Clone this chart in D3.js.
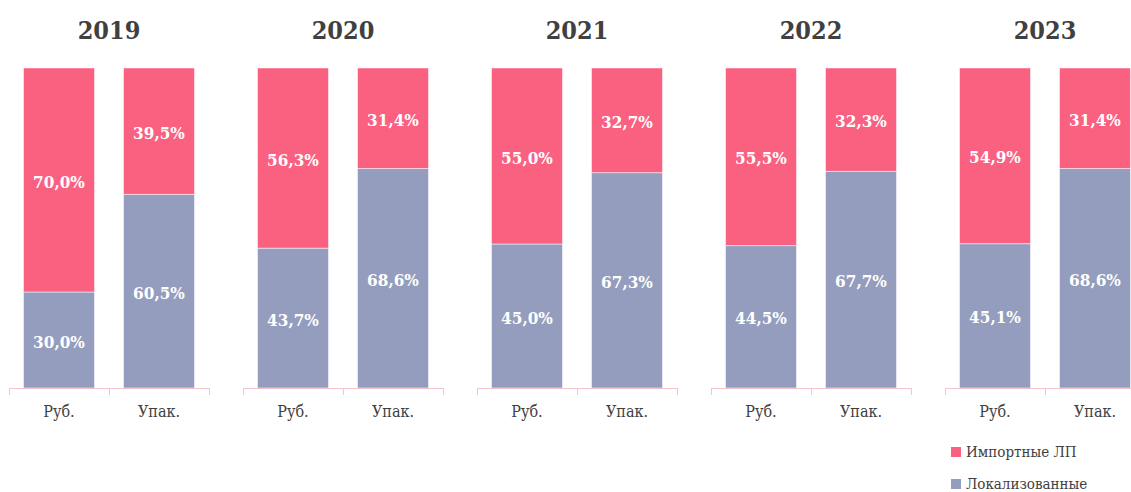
<!DOCTYPE html>
<html lang="ru">

<head>
  <meta charset="UTF-8">
  <title>Импортные и локализованные ЛП</title>
  <script src="https://d3js.org/d3.v7.min.js"></script>
  <style>
    body {
      margin: 0;
      background: #fff;
      font-family: "DejaVu Serif Condensed", "DejaVu Serif", serif;
    }
  </style>
</head>

<body>
  <div id="chart"></div>

  <script>
    const years = ["2019", "2020", "2021", "2022", "2023"];
    const categories = ["Руб.", "Упак."];
    const seriesNames = ["Импортные ЛП", "Локализованные"];
    const localRub = [30.0, 43.7, 45.0, 44.5, 45.1];
    const localPack = [60.5, 68.6, 67.3, 67.7, 68.6];
    const importRub = [70.0, 56.3, 55.0, 55.5, 54.9];
    const importPack = [39.5, 31.4, 32.7, 32.3, 31.4];

    const width = 1131, height = 492;
    const colors = { imp: "#fa6181", loc: "#949dbd" };
    const textColor = "#404040";
    const axisColor = "#f2c4cf";

    const svg = d3.select("#chart")
      .append("svg")
      .attr("width", width)
      .attr("height", height);

    // one panel per year
    const px = d3.scaleBand()
      .domain(years)
      .range([9, 1145])
      .paddingInner(34 / 234);

    const bx = d3.scaleBand()
      .domain(categories)
      .range([0, px.bandwidth()])
      .paddingInner(0.29)
      .paddingOuter(0.145);

    const y = d3.scaleLinear()
      .domain([0, 100])
      .range([388, 68]);

    const fmt = v => d3.format(".1f")(v).replace(".", ",") + "%";

    years.forEach((yr, i) => {
      const g = svg.append("g")
        .attr("transform", `translate(${px(yr)},0)`);

      const rows = [
        { cat: categories[0], loc: localRub[i], imp: importRub[i] },
        { cat: categories[1], loc: localPack[i], imp: importPack[i] }
      ];

      // title
      g.append("text")
        .attr("x", px.bandwidth() / 2)
        .attr("y", 39)
        .attr("text-anchor", "middle")
        .attr("font-size", "25px")
        .attr("font-weight", "bold")
        .attr("fill", textColor)
        .text(yr);

      rows.forEach(d => {
        const x0 = bx(d.cat);
        const segs = [
          { key: "loc", y0: 0, y1: d.loc, v: d.loc },
          { key: "imp", y0: d.loc, y1: d.loc + d.imp, v: d.imp }
        ];

        g.selectAll(null)
          .data(segs)
          .enter()
          .append("rect")
          .attr("x", x0)
          .attr("width", bx.bandwidth())
          .attr("y", s => y(s.y1))
          .attr("height", s => y(s.y0) - y(s.y1))
          .attr("fill", s => colors[s.key])
          .attr("stroke", "#fff")
          .attr("stroke-opacity", 0.5)
          .attr("stroke-width", 1);

        g.selectAll(null)
          .data(segs)
          .enter()
          .append("text")
          .attr("x", x0 + bx.bandwidth() / 2)
          .attr("y", s => (y(s.y0) + y(s.y1)) / 2)
          .attr("dy", "0.45em")
          .attr("text-anchor", "middle")
          .attr("font-size", "17px")
          .attr("font-weight", "bold")
          .attr("fill", "#fff")
          .text(s => fmt(s.v));
      });

      // baseline with separators
      const ax = d3.scaleLinear().domain([0, 2]).range([0, px.bandwidth()]);
      const axis = g.append("g")
        .attr("transform", `translate(0,${y(0)})`)
        .call(d3.axisBottom(ax).tickValues([0, 1, 2]).tickFormat("").tickSize(7).tickSizeOuter(0));
      axis.selectAll("line, path").attr("stroke", axisColor);

      g.selectAll(null)
        .data(categories)
        .enter()
        .append("text")
        .attr("x", c => bx(c) + bx.bandwidth() / 2)
        .attr("y", 417)
        .attr("text-anchor", "middle")
        .attr("font-size", "16px")
        .attr("fill", textColor)
        .text(c => c);
    });

    // legend
    const legend = svg.append("g")
      .selectAll("g")
      .data(seriesNames)
      .enter().append("g")
      .attr("transform", (d, i) => `translate(951,${452 + i * 32})`);

    legend.append("rect")
      .attr("x", 0)
      .attr("y", -5)
      .attr("width", 10)
      .attr("height", 10)
      .attr("fill", (d, i) => i === 0 ? colors.imp : colors.loc);

    legend.append("text")
      .attr("x", 15)
      .attr("y", 0)
      .attr("dy", "0.36em")
      .attr("font-size", "15px")
      .attr("fill", textColor)
      .text(d => d);
  </script>
</body>

</html>
